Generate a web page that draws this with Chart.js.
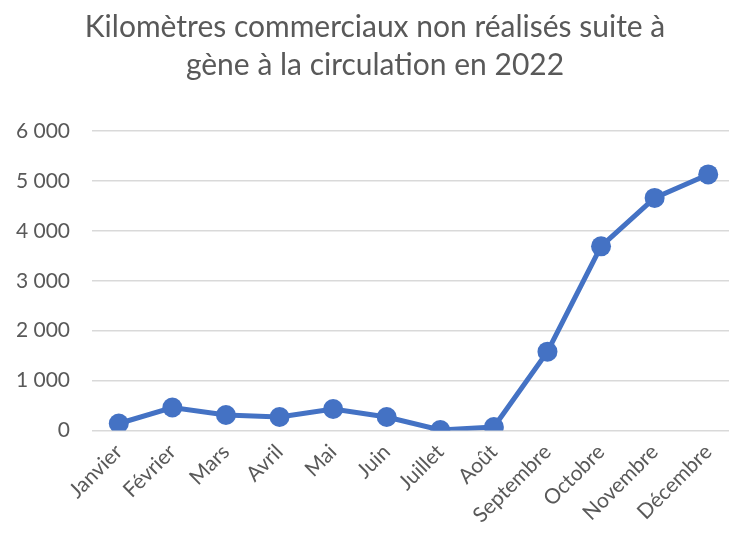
<!DOCTYPE html>
<html lang="fr">
<head>
<meta charset="utf-8">
<script src="https://cdn.jsdelivr.net/npm/chart.js@4/dist/chart.umd.min.js"></script>
<style>
  html, body { margin:0; padding:0; background:#fff; overflow:hidden; }
  #wrap { width:745px; height:537px; position:relative; }
</style>
</head>
<body>
<div id="wrap"><canvas id="chart"></canvas></div>
<script>
// ---- Data ----
const months = ["Janvier","Février","Mars","Avril","Mai","Juin","Juillet","Août","Septembre","Octobre","Novembre","Décembre"];
const kmLost = [140, 460, 310, 270, 430, 270, 10, 70, 1580, 3690, 4660, 5130];
const yTicks = [0, 1000, 2000, 3000, 4000, 5000, 6000];
const titleLines = ["Kilomètres commerciaux non réalisés suite à", "gène à la circulation en 2022"];

const grey = "#595959";
const blue = "#4472C4";

// thousands with a space, like the french Excel output
const fmt = v => String(v).replace(/\B(?=(\d{3})+(?!\d))/g, " ");

new Chart(document.getElementById("chart"), {
  type: "line",
  data: {
    labels: months,
    datasets: [{
      data: kmLost,
      borderColor: blue,
      backgroundColor: blue,
      borderWidth: 5,
      pointRadius: 10,
      pointHoverRadius: 10,
      pointBorderWidth: 0,
      tension: 0
    }]
  },
  options: {
    responsive: true,
    maintainAspectRatio: false,
    animation: false,
    layout: { padding: { left: 5, right: 0, top: 9, bottom: 0 } },
    plugins: {
      legend: { display: false },
      tooltip: { enabled: false },
      title: {
        display: true,
        text: titleLines,
        color: grey,
        font: { family: "Lato", size: 30, weight: "normal", lineHeight: 1.25 },
        padding: { top: 0, bottom: 47 }
      }
    },
    scales: {
      x: {
        offset: true,
        grid: { display: false, drawTicks: false },
        border: { display: false },
        ticks: {
          color: grey,
          font: { family: "Lato", size: 21 },
          minRotation: 45,
          maxRotation: 45,
          padding: 9
        },
        afterFit: sc => { sc.paddingLeft = 0; sc.paddingRight = 0; }
      },
      y: {
        min: 0,
        max: 6000,
        afterBuildTicks: ax => { ax.ticks = yTicks.map(v => ({ value: v })); },
        // fixed width so the plot area starts at the same spot as the Excel one
        afterFit: sc => { sc.width = 87; },
        grid: { color: "#d9d9d9", lineWidth: 1.5, drawTicks: false },
        border: { display: false },
        ticks: {
          color: grey,
          font: { family: "Lato", size: 21 },
          padding: 22,
          callback: v => fmt(v)
        }
      }
    }
  }
});
</script>
</body>
</html>
